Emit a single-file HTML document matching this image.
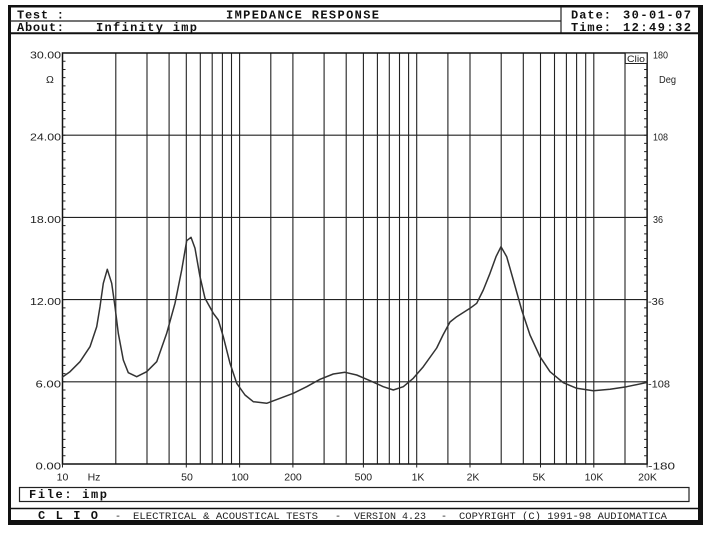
<!DOCTYPE html>
<html><head><meta charset="utf-8"><style>
html,body{margin:0;padding:0;background:#fff;}
svg{display:block;}
.hd{font-family:"Liberation Mono",monospace;font-weight:bold;font-size:12px;fill:#111;}
.ax{font-family:"Liberation Sans",sans-serif;font-size:10.5px;fill:#222;}
.ft{font-family:"Liberation Mono",monospace;font-size:10px;fill:#222;}
</style></head><body>
<svg width="708" height="534" viewBox="0 0 708 534" xmlns="http://www.w3.org/2000/svg">
<rect width="708" height="534" fill="#fff"/>
<!-- outer frame -->
<rect x="8" y="5" width="3" height="520" fill="#111"/>
<rect x="8" y="5" width="695" height="2.5" fill="#111"/>
<rect x="698" y="5" width="5" height="520" fill="#111"/>
<rect x="8" y="520" width="695" height="5" fill="#111"/>
<!-- header lines -->
<line x1="10" y1="21" x2="561" y2="21" stroke="#222" stroke-width="1.2"/>
<line x1="561" y1="7" x2="561" y2="33" stroke="#222" stroke-width="1.2"/>
<line x1="10" y1="33.3" x2="698" y2="33.3" stroke="#111" stroke-width="2"/>
<!-- header text -->
<text class="hd" x="17" y="18.5" textLength="47" lengthAdjust="spacing">Test :</text>
<text class="hd" x="226" y="18.5" textLength="153" lengthAdjust="spacing">IMPEDANCE RESPONSE</text>
<text class="hd" x="17" y="31" textLength="47" lengthAdjust="spacing">About:</text>
<text class="hd" x="96" y="31" textLength="101" lengthAdjust="spacing">Infinity imp</text>
<text class="hd" x="571" y="18.5" textLength="40" lengthAdjust="spacing">Date:</text>
<text class="hd" x="623" y="18.5" textLength="68" lengthAdjust="spacing">30-01-07</text>
<text class="hd" x="571" y="31" textLength="40" lengthAdjust="spacing">Time:</text>
<text class="hd" x="623" y="31" textLength="68" lengthAdjust="spacing">12:49:32</text>

<!-- grid -->
<g stroke="#222" stroke-width="1.1" fill="none">
<path d="M115.8 53V464M147 53V464M169.1 53V464M186.3 53V464M200.3 53V464M212.2 53V464M222.4 53V464M231.5 53V464M239.6 53V464M270.8 53V464M292.9 53V464M324.1 53V464M346.2 53V464M363.4 53V464M377.4 53V464M389.3 53V464M399.5 53V464M408.6 53V464M416.7 53V464M447.9 53V464M470 53V464M501.2 53V464M523.3 53V464M540.5 53V464M554.5 53V464M566.4 53V464M576.6 53V464M585.7 53V464M593.8 53V464M625 53V464"/>
<path d="M62.5 135.2H647M62.5 217.4H647M62.5 299.6H647M62.5 381.8H647"/>
</g>
<rect x="62.5" y="53" width="584.6" height="411" fill="none" stroke="#111" stroke-width="1.5"/>
<!-- minor ticks -->
<line x1="64" y1="53" x2="64" y2="464" stroke="#222" stroke-width="3" stroke-dasharray="1 7.22" stroke-dashoffset="0.5"/>
<line x1="645.6" y1="53" x2="645.6" y2="464" stroke="#222" stroke-width="3" stroke-dasharray="1 7.22" stroke-dashoffset="0.5"/>
<!-- bottom ticks -->
<path d="M62.5 464V467.5M186.3 464V467.5M239.6 464V467.5M292.9 464V467.5M363.4 464V467.5M416.7 464V467.5M470 464V467.5M540.5 464V467.5M593.8 464V467.5M647.1 464V467.5" stroke="#222" stroke-width="1"/>

<!-- Clio box -->
<rect x="625.3" y="53" width="21.8" height="10.5" fill="#fff" stroke="#222" stroke-width="1"/>
<text x="627" y="61.8" font-family="Liberation Sans, sans-serif" font-size="9" fill="#222" textLength="18" lengthAdjust="spacingAndGlyphs">Clio</text>

<!-- left labels -->
<text class="ax" x="30" y="58.5" textLength="31" lengthAdjust="spacingAndGlyphs">30.00</text>
<text class="ax" x="46" y="83" font-size="9">Ω</text>
<text class="ax" x="30" y="140.7" textLength="31" lengthAdjust="spacingAndGlyphs">24.00</text>
<text class="ax" x="30" y="222.9" textLength="31" lengthAdjust="spacingAndGlyphs">18.00</text>
<text class="ax" x="30" y="305.1" textLength="31" lengthAdjust="spacingAndGlyphs">12.00</text>
<text class="ax" x="35.5" y="387.3" textLength="25.5" lengthAdjust="spacingAndGlyphs">6.00</text>
<text class="ax" x="35.5" y="469.5" textLength="25.5" lengthAdjust="spacingAndGlyphs">0.00</text>
<!-- right labels -->
<text class="ax" x="653" y="58.5" textLength="15" lengthAdjust="spacingAndGlyphs">180</text>
<text class="ax" x="659" y="83" textLength="17" lengthAdjust="spacingAndGlyphs">Deg</text>
<text class="ax" x="653" y="140.7" textLength="15" lengthAdjust="spacingAndGlyphs">108</text>
<text class="ax" x="653" y="222.9" textLength="10" lengthAdjust="spacingAndGlyphs">36</text>
<text class="ax" x="648" y="305.1" textLength="16" lengthAdjust="spacingAndGlyphs">-36</text>
<text class="ax" x="648" y="387.3" textLength="22" lengthAdjust="spacingAndGlyphs">-108</text>
<text class="ax" x="648" y="469.5" textLength="27" lengthAdjust="spacingAndGlyphs">-180</text>
<!-- bottom labels -->
<g class="ax" text-anchor="middle">
<text x="62.5" y="480.5">10</text>
<text x="94" y="480.5">Hz</text>
<text x="187" y="480.5">50</text>
<text x="240" y="480.5">100</text>
<text x="293" y="480.5">200</text>
<text x="363.4" y="480.5">500</text>
<text x="418" y="480.5">1K</text>
<text x="473" y="480.5">2K</text>
<text x="539" y="480.5">5K</text>
<text x="594" y="480.5">10K</text>
<text x="647.5" y="480.5">20K</text>
</g>

<!-- curve -->
<polyline fill="none" stroke="#333" stroke-width="1.5" stroke-linejoin="round" stroke-linecap="round" points="62.5,377 70,371.7 80,361.7 90,346.7 96.7,326.7 100,306.7 103.3,283.3 107.3,269.3 111.7,283.3 115,306.7 118.3,333.3 123.3,360 128.3,372.7 136.7,376.7 146.7,371.7 156.7,361.7 166.7,333.3 175,303.3 181.7,270 186.7,240.7 191,237.3 195,248.3 200,276.7 205,298.3 213.3,313.3 218.3,320 223.3,336.7 230,363.3 236.7,383.3 245,395 253.3,401.7 266.7,403.3 280,398.3 293.3,393.3 306.7,386.7 320,379.3 333.3,374 345,372.3 356.7,375 370,380.7 383.3,386.7 393.3,390 403.3,386.7 413.3,378.3 423.3,366.7 436.7,348 443,335 450,322 456.7,316.7 470,308.3 476.7,303.3 483.3,290 490,273.3 496,256.7 501,246.7 506.7,256.7 513.3,280 521.7,310 530,335 540,356.7 550,371.7 563.3,382.7 576.7,388.3 593.3,390.7 610,389.3 626.7,386.7 646,382.7"/>

<!-- file box -->
<rect x="19.5" y="487.5" width="669.5" height="14" fill="none" stroke="#222" stroke-width="1.2"/>
<text class="hd" x="29" y="497.8" textLength="78" lengthAdjust="spacing">File: imp</text>
<!-- bottom bar -->
<line x1="10" y1="508.5" x2="698" y2="508.5" stroke="#111" stroke-width="1.5"/>
<text class="hd" x="38" y="519" textLength="60" lengthAdjust="spacing">C L I O</text>
<text class="ft" x="115" y="519">-</text>
<text class="ft" x="133" y="519" textLength="185" lengthAdjust="spacingAndGlyphs">ELECTRICAL &amp; ACOUSTICAL TESTS</text>
<text class="ft" x="335" y="519">-</text>
<text class="ft" x="354" y="519" textLength="72" lengthAdjust="spacingAndGlyphs">VERSION 4.23</text>
<text class="ft" x="441" y="519">-</text>
<text class="ft" x="459" y="519" textLength="208" lengthAdjust="spacingAndGlyphs">COPYRIGHT (C) 1991-98 AUDIOMATICA</text>
</svg>
</body></html>
